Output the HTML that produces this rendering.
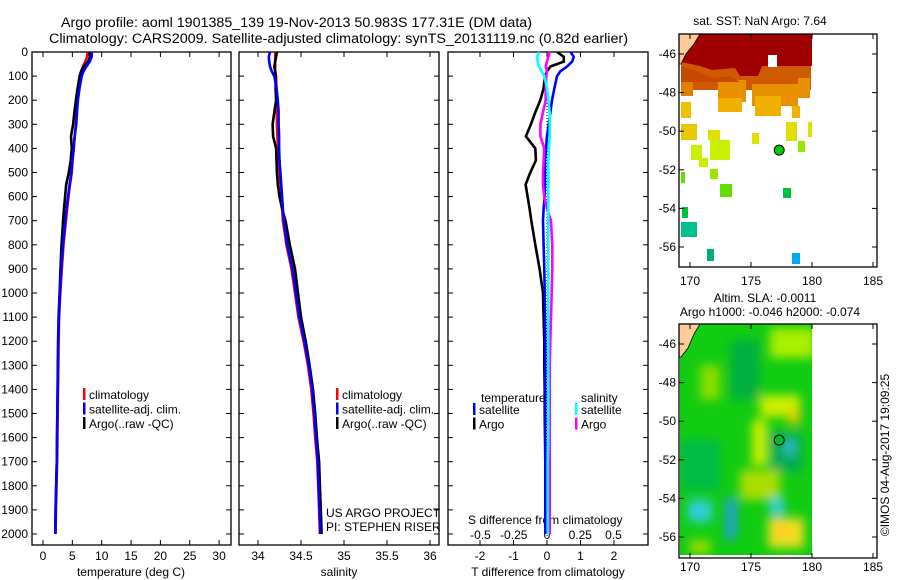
<!DOCTYPE html>
<html><head><meta charset="utf-8"><style>
html,body{margin:0;padding:0;background:#fff}
svg{display:block;font-family:"Liberation Sans",sans-serif}
text{font-size:12px;fill:#000}
</style></head><body>
<svg id="chart" width="900" height="580" viewBox="0 0 900 580" xmlns="http://www.w3.org/2000/svg">
<defs>
<filter id="blr" x="-20%" y="-20%" width="140%" height="140%"><feGaussianBlur stdDeviation="5"/></filter>
<clipPath id="clipAlt"><rect x="680" y="324" width="132" height="231"/></clipPath>
</defs>
<text x="61" y="27" textLength="471" lengthAdjust="spacingAndGlyphs" style="font-size:13.5px">Argo profile: aoml 1901385_139 19-Nov-2013 50.983S 177.31E (DM data)</text>
<text x="49" y="43" textLength="579" lengthAdjust="spacingAndGlyphs" style="font-size:13.5px">Climatology: CARS2009. Satellite-adjusted climatology: synTS_20131119.nc (0.82d earlier)</text>
<g id="p1"></g>
<g id="p2"></g>
<g id="p3"></g>
<g id="m1"></g>
<g id="m2"></g>
</svg>
<script>
const depths=[0,20,40,60,80,100,150,200,250,300,350,400,450,500,550,600,650,700,800,900,1000,1100,1200,1300,1400,1500,1600,1700,1800,1900,2000];
const climT=[7.6,7.5,7.2,6.8,6.5,6.3,6.0,5.8,5.7,5.6,5.4,5.25,5.05,4.9,4.6,4.35,4.1,3.9,3.5,3.2,2.95,2.75,2.65,2.6,2.55,2.5,2.45,2.4,2.3,2.2,2.15];
const diffTArgo=[0.3,0.5,0.5,0.1,0.0,-0.06,-0.1,-0.2,-0.35,-0.48,-0.63,-0.35,-0.33,-0.5,-0.64,-0.58,-0.52,-0.47,-0.35,-0.22,-0.12,-0.1,-0.08,-0.08,-0.07,-0.07,-0.06,-0.05,-0.05,-0.05,-0.05];
const diffTSat=[0.7,0.8,0.75,0.6,0.4,0.3,0.22,0.15,0.1,0.05,0.0,-0.03,-0.06,-0.06,-0.06,-0.07,-0.1,-0.12,-0.1,-0.08,-0.07,-0.06,-0.05,-0.05,-0.05,-0.05,-0.05,-0.05,-0.05,-0.05,-0.05];
const climS=[34.2,34.2,34.2,34.2,34.2,34.21,34.215,34.22,34.22,34.22,34.225,34.23,34.24,34.25,34.26,34.27,34.28,34.29,34.33,34.39,34.43,34.47,34.53,34.58,34.62,34.645,34.665,34.69,34.70,34.71,34.72];
const diffSSat=[-0.06,-0.075,-0.07,-0.06,-0.04,-0.02,0,0.01,0.02,0.02,0.02,0.015,0.01,0.01,0.01,0.01,0.01,0.01,0.01,0.01,0.01,0.01,0.01,0.01,0.01,0.01,0.01,0.005,0.005,0.005,0.005];
const diffSArgo=[0.02,0.01,0.0,-0.01,0,-0.005,-0.01,-0.01,-0.03,-0.05,-0.05,-0.02,-0.025,-0.03,-0.03,-0.02,0.0,0.03,0.04,0.04,0.035,0.03,0.025,0.02,0.02,0.02,0.02,0.02,0.02,0.02,0.02];
const depthTicks=[0,100,200,300,400,500,600,700,800,900,1000,1100,1200,1300,1400,1500,1600,1700,1800,1900,2000];
const tTicks=[0,5,10,15,20,25,30];
const sTicks=[34,34.5,35,35.5,36];
const dTTicks=[-2,-1,0,1,2];
const dSTicks=[-0.5,-0.25,0,0.25,0.5];
const dSTickLabels=["-0.5","-0.25","0","0.25","0.5"];
const lonTicks=[170,175,180,185];
const latTicks=[-46,-48,-50,-52,-54,-56];
const argoLon=177.31, argoLat=-50.983;

const NS='http://www.w3.org/2000/svg';
function el(tag,attrs,parent,txt){const e=document.createElementNS(NS,tag);for(const k in attrs)e.setAttribute(k,attrs[k]);if(txt!==undefined)e.textContent=txt;parent.appendChild(e);return e;}
const yD=d=>52+d*0.241;
const xT=t=>43+5.87*t;
const xS=s=>258+86*(s-34);
const xDT=t=>547+33.5*t;
const xDS=s=>547+133*s;
const TOP=52,BOT=545;

function frame(g,x0,x1,name){
  const r=el('rect',{x:x0,y:TOP,width:x1-x0,height:BOT-TOP,fill:'none',stroke:'#000','stroke-width':1.3},g);
  
  
  depthTicks.forEach(d=>{
    el('line',{x1:x0,x2:x0+5,y1:yD(d),y2:yD(d),stroke:'#000'},g);
    el('line',{x1:x1,x2:x1-5,y1:yD(d),y2:yD(d),stroke:'#000'},g);
  });
}
function xticks(g,vals,fx,labels,ly){
  vals.forEach((v,i)=>{const x=fx(v);
    el('line',{x1:x,x2:x,y1:BOT,y2:BOT-5,stroke:'#000'},g);
    el('line',{x1:x,x2:x,y1:TOP,y2:TOP+5,stroke:'#000'},g);
    const t=el('text',{x:x,y:ly,'text-anchor':'middle'},g,labels?labels[i]:String(v));
    
    
  });
}
function line(g,xs,fx,col,name,w){
  const pts=depths.map((d,i)=>fx(xs[i]).toFixed(1)+','+yD(d).toFixed(1)).join(' ');
  const p=el('polyline',{points:pts,fill:'none',stroke:col,'stroke-width':w||2.6,'stroke-linejoin':'miter'},g);
  
  
}
function legend(g,x,y,items){
  items.forEach((it,i)=>{
    el('rect',{x:x,y:y+i*14.5-9,width:2.5,height:12,fill:it[0]},g);
    const t=el('text',{x:x+6,y:y+i*14.5+2},g,it[1]);
    
    
  });
}
// Panel 1
const p1=document.getElementById('p1');
frame(p1,32,231,'temperature-plot-frame');
depthTicks.forEach(d=>{const t=el('text',{x:28,y:yD(d)+4,'text-anchor':'end'},p1,String(d));
  
  });
xticks(p1,tTicks,xT,null,560);
const tt=el('text',{x:131,y:576,'text-anchor':'middle'},p1,'temperature (deg C)');


line(p1,climT,xT,'#f00','temperature-climatology');
line(p1,climT.map((v,i)=>v+diffTArgo[i]),xT,'#000','temperature-argo');
line(p1,climT.map((v,i)=>v+diffTSat[i]),xT,'#00f','temperature-satellite-adj');
legend(p1,83,397,[['#f00','climatology'],['#00f','satellite-adj. clim.'],['#000','Argo(..raw -QC)']]);
// Panel 2
const p2=document.getElementById('p2');
frame(p2,239,439,'salinity-plot-frame');
xticks(p2,sTicks,xS,null,560);
const st=el('text',{x:339,y:576,'text-anchor':'middle'},p2,'salinity');


line(p2,climS,xS,'#f00','salinity-climatology');
line(p2,climS.map((v,i)=>v+diffSArgo[i]),xS,'#000','salinity-argo');
line(p2,climS.map((v,i)=>v+diffSSat[i]),xS,'#00f','salinity-satellite-adj');
legend(p2,336,397,[['#f00','climatology'],['#00f','satellite-adj. clim.'],['#000','Argo(..raw -QC)']]);
el('text',{x:326,y:517},p2,'US ARGO PROJECT');
el('text',{x:326,y:531},p2,'PI: STEPHEN RISER');
// Panel 3
const p3=document.getElementById('p3');
frame(p3,448,648,'difference-plot-frame');
dTTicks.forEach(v=>{const x=xDT(v);
  el('line',{x1:x,x2:x,y1:BOT,y2:BOT-5,stroke:'#000'},p3);
  el('line',{x1:x,x2:x,y1:TOP,y2:TOP+5,stroke:'#000'},p3);
  const t=el('text',{x:x,y:560,'text-anchor':'middle'},p3,String(v));
  
  });
dSTicks.forEach((v,i)=>{const t=el('text',{x:xDS(v),y:539,'text-anchor':'middle'},p3,dSTickLabels[i]);
  
  });
el('text',{x:468,y:524},p3,'S difference from climatology');
const dt=el('text',{x:548,y:576,'text-anchor':'middle'},p3,'T difference from climatology');


el('line',{x1:547,x2:547,y1:TOP,y2:BOT,stroke:'#000','stroke-dasharray':'1,2'},p3);
line(p3,diffTArgo,xDT,'#000','t-diff-argo');
line(p3,diffTSat,xDT,'#00f','t-diff-satellite');
line(p3,diffSArgo,xDS,'#f0f','s-diff-argo');
line(p3,diffSSat,xDS,'#0ff','s-diff-satellite');
el('text',{x:481,y:402},p3,'temperature');
el('text',{x:581,y:402},p3,'salinity');
legend(p3,473,412,[['#00f','satellite'],['#000','Argo']]);
legend(p3,575,412,[['#0ff','satellite'],['#f0f','Argo']]);

// Maps
const mLon=l=>690+12.2*(l-170);
function mapFrame(g,y0,y1,latY,labY,name){
  lonTicks.forEach(l=>{const x=mLon(l);
    el('line',{x1:x,x2:x,y1:y1,y2:y1-5,stroke:'#000'},g);
    el('line',{x1:x,x2:x,y1:y0,y2:y0+5,stroke:'#000'},g);
    el('text',{x:x,y:labY,'text-anchor':'middle'},g,String(l));});
  latTicks.forEach(l=>{const y=latY(l);
    el('line',{x1:679,x2:684,y1:y,y2:y,stroke:'#000'},g);
    el('line',{x1:877,x2:872,y1:y,y2:y,stroke:'#000'},g);
    el('text',{x:676,y:y+4,'text-anchor':'end'},g,String(l));});
  const r=el('rect',{x:679,y:y0,width:198,height:y1-y0,fill:'none',stroke:'#000','stroke-width':1.3},g);
  
  
}
const m1=document.getElementById('m1');
const lat1=l=>54+19.3*(-46-l);
el('text',{x:760,y:25,'text-anchor':'middle'},m1,'sat. SST: NaN Argo: 7.64');
const sstRects=[
['#d05a00',681,60,130,30],['#a00000',681,34,131,28],
['#e08000',681,80,12,16],['#e89000',718,80,28,22],['#e89000',752,84,46,22],['#e89000',798,78,12,20],
['#f0b000',718,98,24,14],['#f0b000',755,96,26,20],['#f0b000',792,106,8,12],
['#f0c000',681,102,10,16],['#e8c800',681,124,16,16],
['#e0e000',708,130,12,10],['#e0e000',752,133,7,11],['#e0e000',786,122,11,19],['#e0e000',808,122,4,15],
['#c8f000',710,140,20,20],['#c8f000',691,145,11,15],['#c8f000',699,158,9,9],
['#99e600',798,141,7,11],['#99e600',710,169,8,10],
['#66dd00',720,184,12,13],['#66dd00',681,172,4,11],
['#00c040',783,188,8,10],['#00c040',682,207,6,11],
['#00c090',681,222,16,15],['#00b070',707,249,7,12],['#00aaee',792,253,8,11]];
sstRects.forEach(r=>el('rect',{x:r[1],y:r[2],width:r[3],height:r[4],fill:r[0]},m1));
el('polygon',{points:'681,62 700,66 712,70 735,68 740,76 758,76 762,66 812,66 812,34 700,34 681,50',fill:'#a00000'},m1);
el('polygon',{points:'681,66 700,72 712,78 730,76 740,82 681,82',fill:'#c84800'},m1);
el('rect',{x:768,y:55,width:9,height:12,fill:'#fff'},m1);
el('polygon',{points:'679,34 700,34 694,44 686,54 681,64 679,64',fill:'#ffcc99',stroke:'#000','stroke-width':0.8},m1);
el('circle',{cx:mLon(argoLon),cy:lat1(argoLat),r:5,fill:'#00cc00',stroke:'#000','stroke-width':1},m1);
mapFrame(m1,34,267,lat1,285,'sst-map-frame');

const m2=document.getElementById('m2');
const lat2=l=>344+19.3*(-46-l);
el('text',{x:765,y:302,'text-anchor':'middle'},m2,'Altim. SLA: -0.0011');
el('text',{x:770,y:316,'text-anchor':'middle'},m2,'Argo h1000: -0.046 h2000: -0.074');
el('rect',{x:680,y:324,width:132,height:231,fill:'#11cc11'},m2);
const gb=el('g',{'clip-path':'url(#clipAlt)'},m2);
const bl=el('g',{filter:'url(#blr)'},gb);
const slaBlobs=[
['#aaee00',770,328,45,30],['#88dd00',700,365,20,35],['#00b040',730,340,30,60],['#ccee00',760,395,40,22],
['#ccee00',752,420,15,45],['#eecc00',788,410,12,14],['#00aa55',770,432,32,40],['#33bbcc',785,440,10,15],
['#aadd00',740,470,40,30],['#33ccdd',688,500,24,22],['#2299ee',726,498,10,42],['#33ccdd',770,498,14,18],
['#eedd22',768,518,36,30],['#ffcc22',775,525,15,12],['#00bb44',680,440,40,50],['#99dd00',690,540,20,14]];
slaBlobs.forEach(b=>el('rect',{x:b[1],y:b[2],width:b[3],height:b[4],fill:b[0]},bl));
el('polygon',{points:'679,324 700,324 694,334 688,348 681,357 679,357',fill:'#ffcc99',stroke:'#000','stroke-width':0.8},m2);
el('circle',{cx:mLon(argoLon),cy:lat2(argoLat),r:5,fill:'#00bb33',stroke:'#000','stroke-width':1},m2);
mapFrame(m2,324,558,lat2,571,'sla-map-frame');
const cr=el('text',{x:889,y:455,'text-anchor':'middle',transform:'rotate(-90 889 455)'},m2,'\u00a9IMOS 04-Aug-2017 19:09:25');


</script>
</body></html>
